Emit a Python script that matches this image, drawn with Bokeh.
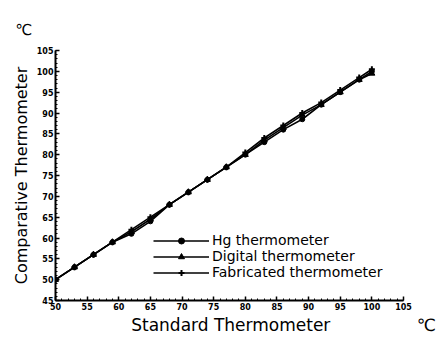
from bokeh.plotting import figure
from bokeh.models import Legend, LegendItem, FixedTicker
from bokeh.embed import file_html
from bokeh.resources import INLINE

std_temp = [50, 53, 56, 59, 62, 65, 68, 71, 74, 77, 80, 83, 86, 89, 92, 95, 98, 100]
hg_vals = [50, 53, 56, 59, 61, 64, 68, 71, 74, 77, 80, 83, 86, 88.5, 92, 95, 98, 100]
digital_vals = [50, 53, 56, 59, 61.5, 64.5, 68, 71, 74, 77, 80, 83.5, 86.5, 89.5, 92, 95, 98, 99.5]
fab_vals = [50, 53, 56, 59, 62, 65, 68, 71, 74, 77, 80.5, 84, 87, 90, 92.5, 95.5, 98.5, 100.5]
x_ticks = [50, 55, 60, 65, 70, 75, 80, 85, 90, 95, 100, 105]
y_ticks = [45, 50, 55, 60, 65, 70, 75, 80, 85, 90, 95, 100, 105]
series_names = ["Hg thermometer", "Digital thermometer", "Fabricated thermometer"]
unit_text = "\u2103"
x_title = "Standard Thermometer"
y_title = "Comparative Thermometer"

FONT = "DejaVu Sans"
NBSP = "\u00a0"

p = figure(width=437, height=341, output_backend="svg", toolbar_location=None,
           x_range=(50, 105), y_range=(45, 105),
           min_border_left=55, min_border_right=34, min_border_top=50, min_border_bottom=41)
p.outline_line_color = None
p.grid.visible = False
p.background_fill_color = "white"

p.title.text = unit_text
p.title.text_font = FONT
p.title.text_font_size = "15px"
p.title.text_font_style = "normal"
p.title.text_color = "black"
p.title.align = "left"
p.title.vertical_align = "bottom"
p.title.offset = -40
p.title.standoff = 24

for ax, ticks in ((p.xaxis, x_ticks), (p.yaxis, y_ticks)):
    ax.ticker = FixedTicker(ticks=ticks, minor_ticks=list(range(45, 106)))
    ax.axis_line_width = 2
    ax.axis_line_color = "black"
    ax.major_tick_in = 4
    ax.major_tick_out = 0
    ax.minor_tick_in = 2
    ax.minor_tick_out = 0
    ax.major_tick_line_width = 1.5
    ax.minor_tick_line_width = 1
    ax.major_label_text_font = FONT
    ax.major_label_text_font_size = "8px"
    ax.major_label_text_font_style = "bold"
    ax.major_label_text_color = "black"
    ax.axis_label_text_font = FONT
    ax.axis_label_text_font_style = "normal"
    ax.axis_label_text_color = "black"

# x-axis title with the unit sign set off at the far right of the same line
p.xaxis.axis_label = NBSP * 20 + x_title + NBSP * 16 + unit_text
p.xaxis.axis_label_text_font_size = "17px"
p.xaxis.axis_label_standoff = 2
p.xaxis.major_label_standoff = 2
p.yaxis.axis_label = y_title
p.yaxis.axis_label_text_font_size = "16px"
p.yaxis.axis_label_standoff = 3
p.yaxis.major_label_standoff = 2

lw = 1.6
r1l = p.line(std_temp, hg_vals, line_color="black", line_width=lw)
r1m = p.scatter(std_temp, hg_vals, marker="circle", size=5, color="black")
r2l = p.line(std_temp, digital_vals, line_color="black", line_width=lw)
r2m = p.scatter(std_temp, digital_vals, marker="triangle", size=6, color="black")
r3l = p.line(std_temp, fab_vals, line_color="black", line_width=lw)
r3m = p.scatter(std_temp, fab_vals, marker="cross", size=6, color="black", line_width=2)

legend = Legend(items=[
    LegendItem(label=series_names[0], renderers=[r1l, r1m]),
    LegendItem(label=series_names[1], renderers=[r2l, r2m]),
    LegendItem(label=series_names[2], renderers=[r3l, r3m]),
], location=(98, 20), glyph_width=56, glyph_height=15, label_height=15, spacing=0,
    padding=0, margin=0, border_line_color=None, background_fill_alpha=0,
    label_text_font=FONT, label_text_font_size="14px", label_text_font_style="normal",
    label_text_color="black", label_standoff=3)
p.add_layout(legend)

open("out.html", "w").write(file_html(p, INLINE))
